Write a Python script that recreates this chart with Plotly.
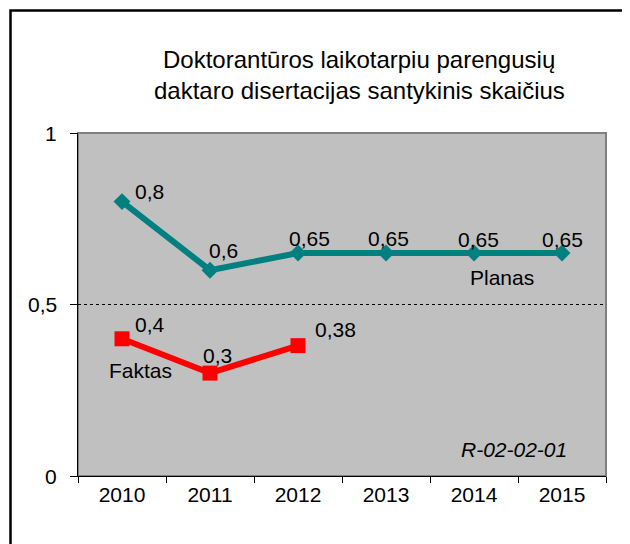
import plotly.graph_objects as go

YEARS = ["2010", "2011", "2012", "2013", "2014", "2015"]
PLANAS = [0.8, 0.6, 0.65, 0.65, 0.65, 0.65]
FAKTAS = [0.4, 0.3, 0.38]
PLANAS_LABELS = ["0,8", "0,6", "0,65", "0,65", "0,65", "0,65"]
FAKTAS_LABELS = ["0,4", "0,3", "0,38"]
Y_TICKS = [0, 0.5, 1]
Y_TICK_LABELS = ["0", "0,5", "1"]

TITLE_LINES = ["Doktorantūros laikotarpiu parengusių", "daktaro disertacijas santykinis skaičius"]

TEAL = "#008080"
RED = "#FF0000"
FONT = "Liberation Sans, Arial, sans-serif"

# label offsets in px (x, y) relative to each point
PLANAS_SHIFT = [(27, 10), (13, 20), (11, 15), (2, 15), (4, 14), (0, 14)]
FAKTAS_SHIFT = [(28, 14), (7, 18), (37, 16)]

# page has an 8px body margin, so the figure is drawn 8px smaller and reference
# pixel positions are shifted by that amount
OFF = 8
W, H = 630 - OFF, 544 - OFF
# plot area in reference pixels: x 78..606, y 133..476
L, T = 78 - OFF, 133 - OFF
R, B = W - (606 - OFF), H - (476 - OFF)
PW, PH = W - L - R, H - T - B


def px_to_paper(px, py):
    # px, py are reference image coordinates
    return (px - OFF - L) / PW, (H - B - (py - OFF)) / PH


fig = go.Figure()

fig.add_trace(
    go.Scatter(
        x=YEARS,
        y=PLANAS,
        mode="lines+markers",
        line=dict(color=TEAL, width=6),
        marker=dict(symbol="diamond", size=13, color=TEAL),
        name="Planas",
        showlegend=False,
    )
)
fig.add_trace(
    go.Scatter(
        x=YEARS[: len(FAKTAS)],
        y=FAKTAS,
        mode="lines+markers",
        line=dict(color=RED, width=6),
        marker=dict(symbol="square", size=15, color=RED),
        name="Faktas",
        showlegend=False,
    )
)

annotations = []
for i, (val, lab, (dx, dy)) in enumerate(zip(PLANAS, PLANAS_LABELS, PLANAS_SHIFT)):
    annotations.append(
        dict(x=i, y=val, xref="x", yref="y", text=lab, showarrow=False, xshift=dx, yshift=dy,
             font=dict(family=FONT, size=21, color="#000000"))
    )
for i, (val, lab, (dx, dy)) in enumerate(zip(FAKTAS, FAKTAS_LABELS, FAKTAS_SHIFT)):
    annotations.append(
        dict(x=i, y=val, xref="x", yref="y", text=lab, showarrow=False, xshift=dx, yshift=dy,
             font=dict(family=FONT, size=21, color="#000000"))
    )

# y tick labels placed by hand so they sit close to the axis
label_x, _ = px_to_paper(59, 0)
for val, lab in zip(Y_TICKS, Y_TICK_LABELS):
    annotations.append(
        dict(x=label_x, y=val, xref="paper", yref="y", text=lab, showarrow=False,
             xanchor="right", yanchor="middle", font=dict(family=FONT, size=21, color="#000000"))
    )

for text, (px, py) in [
    ("Planas", (502, 277)),
    ("Faktas", (140, 370)),
    ("<i>R-02-02-01</i>", (514, 449)),
]:
    ax, ay = px_to_paper(px, py)
    annotations.append(
        dict(x=ax, y=ay, xref="paper", yref="paper", text=text, showarrow=False,
             xanchor="center", yanchor="middle", font=dict(family=FONT, size=21, color="#000000"))
    )

for i, line in enumerate(TITLE_LINES):
    ax, ay = px_to_paper(359, 60 + 30 * i)
    annotations.append(
        dict(x=ax, y=ay, xref="paper", yref="paper", text=line, showarrow=False,
             xanchor="center", yanchor="middle", font=dict(family=FONT, size=24, color="#000000"))
    )

fx0, fy0 = px_to_paper(10.5, 10.5)
fx1, fy1 = px_to_paper(629, 600)
shapes = [
    dict(type="rect", xref="paper", yref="paper", x0=fx0, x1=fx1, y0=fy1, y1=fy0,
         line=dict(color="#000000", width=2.5), fillcolor="rgba(0,0,0,0)", layer="below"),
    dict(type="rect", xref="paper", yref="paper", x0=0, x1=1, y0=0, y1=1,
         line=dict(color="#808080", width=2), fillcolor="rgba(0,0,0,0)", layer="below"),
]

fig.update_layout(
    width=W,
    height=H,
    margin=dict(l=L, r=R, t=T, b=B),
    paper_bgcolor="#FFFFFF",
    plot_bgcolor="#C0C0C0",
    separators=", ",
    annotations=annotations,
    shapes=shapes,
    font=dict(family=FONT, size=21, color="#000000"),
)
fig.update_xaxes(
    type="category",
    range=[-0.5, 5.5],
    tickson="boundaries",
    ticks="outside",
    ticklen=6,
    tickcolor="#000000",
    showline=True,
    linecolor="#000000",
    linewidth=1,
    showgrid=False,
    tickfont=dict(family=FONT, size=21),
    fixedrange=True,
)
fig.update_yaxes(
    range=[0, 1],
    tickvals=Y_TICKS,
    showticklabels=False,
    ticks="outside",
    ticklen=7,
    tickcolor="#000000",
    showline=True,
    linecolor="#000000",
    linewidth=1,
    showgrid=True,
    gridcolor="#000000",
    gridwidth=1,
    griddash="dot",
    zeroline=False,
    fixedrange=True,
)

fig.write_html("out.html")
